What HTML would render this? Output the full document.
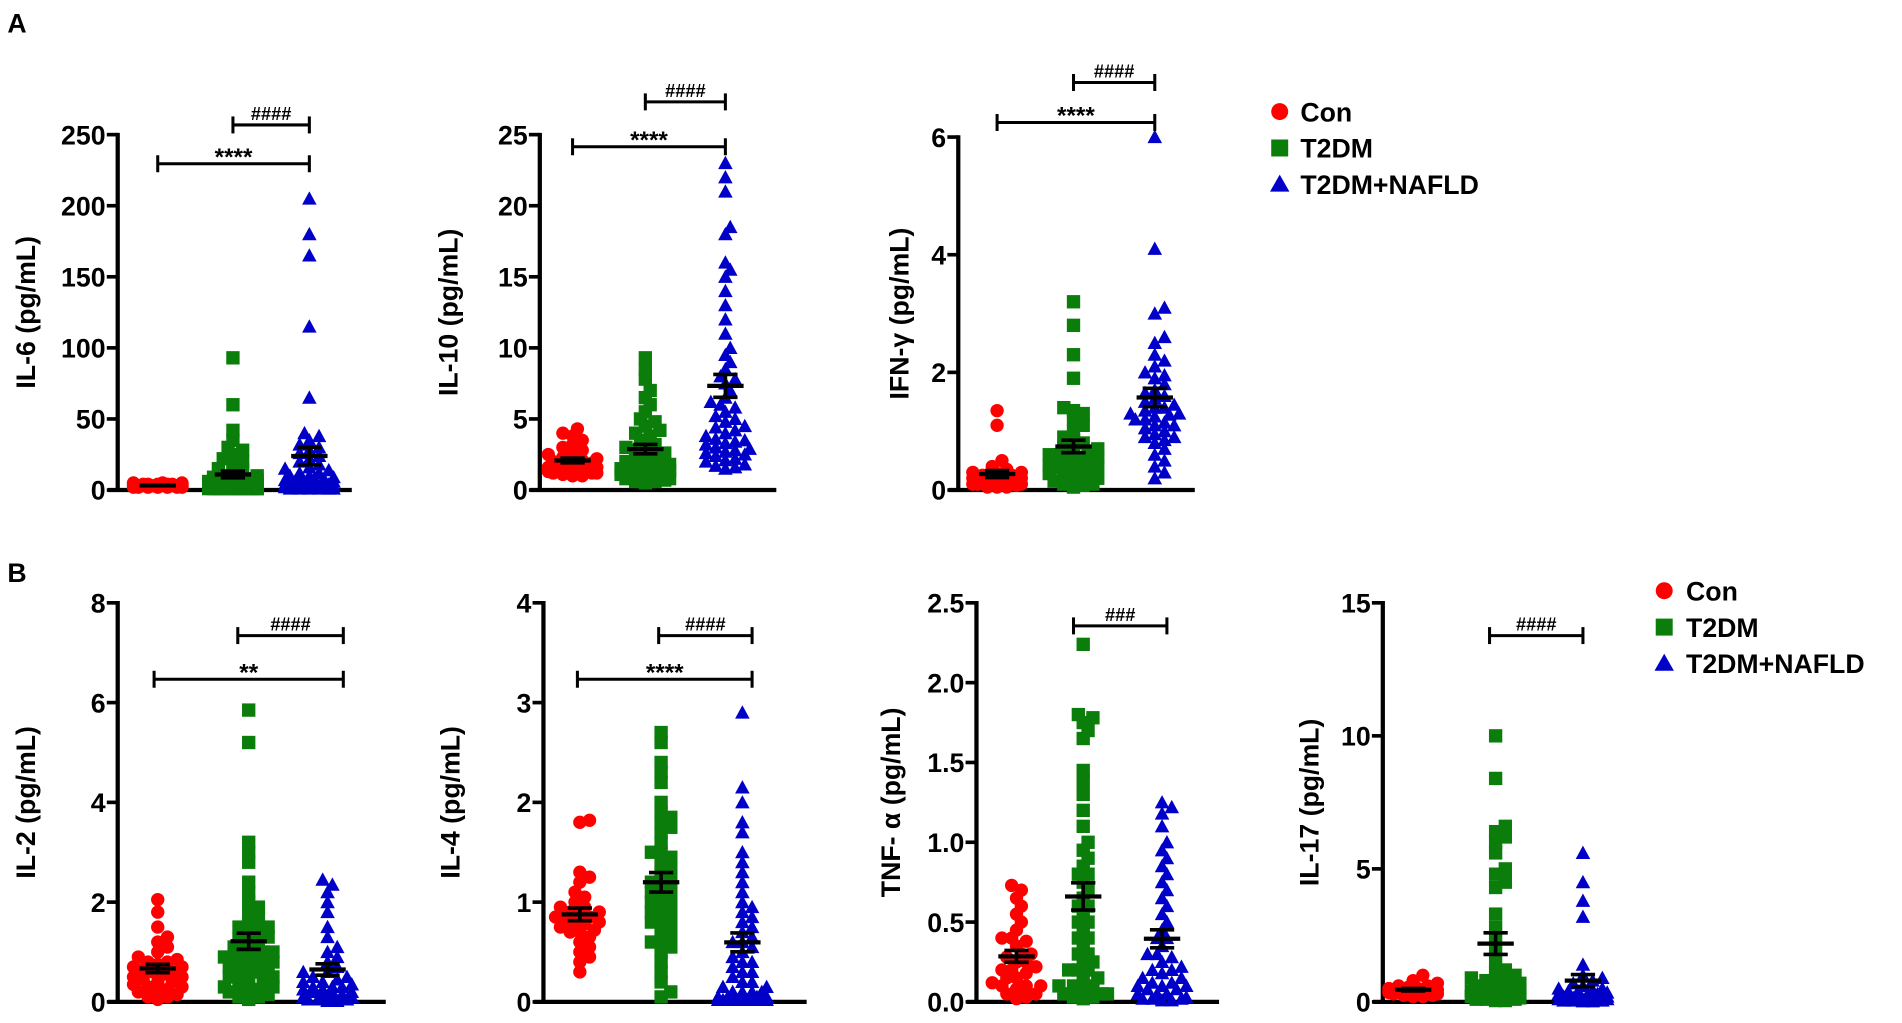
<!DOCTYPE html>
<html><head><meta charset="utf-8">
<style>
html,body{margin:0;padding:0;background:#fff;}
svg{display:block;}
text{font-family:"Liberation Sans",Arial,sans-serif;font-weight:bold;fill:#000;}
</style></head>
<body>
<svg id="fig" width="1902" height="1023" viewBox="0 0 1568 843.4" xmlns="http://www.w3.org/2000/svg">
<text x="6" y="27" font-size="22">A</text>
<text x="6" y="480" font-size="22">B</text>
<g>
<circle cx="1055" cy="92" r="7" fill="#f00"/>
<text x="1072" y="100" font-size="22">Con</text>
<rect x="1048" y="115" width="14" height="14" fill="#0a7d0a"/>
<text x="1072" y="130" font-size="22">T2DM</text>
<polygon points="1055,144 1063,158 1047,158" fill="#0000c8"/>
<text x="1072" y="160" font-size="22">T2DM+NAFLD</text>
</g>
<g>
<circle cx="1372" cy="487" r="7" fill="#f00"/>
<text x="1390" y="495" font-size="22">Con</text>
<rect x="1365" y="510" width="14" height="14" fill="#0a7d0a"/>
<text x="1390" y="525" font-size="22">T2DM</text>
<polygon points="1372,539 1380,553 1364,553" fill="#0000c8"/>
<text x="1390" y="555" font-size="22">T2DM+NAFLD</text>
</g>
</svg>
<script>
// ---- data ----
const il6Con=[2,3,4,3,2,5,3,4,2,3,4,3,5,2,3,4,3,2,4,3,3,2,4,5,3,2,3,4];
const il6T2dm=[93,60,42,35,30,28,25,22,20,18,15,14,12,10,9,8,7,6,5,5,4,4,3,3,3,2,2,2,2,1,1,1,1,1,1,1,1,1,1,1,1,2,2,3,4,5,6,7,8,10];
const il6Nafld=[205,180,165,115,65,12,10,8,6,4,3,2,1,40,38,35,32,30,28,26,24,22,20,18,16,15,14,12,10,9,8,7,6,5,5,4,4,3,3,2,2,2,1,1,1,1,1,2,3,4,6,8];
const il10Con=[4.3,4.0,3.8,3.5,3.2,3.0,2.8,2.6,2.5,2.3,2.2,2.1,2.0,1.9,1.8,1.7,1.6,1.5,1.5,1.4,1.3,1.2,1.2,1.1,1.0,1.0,1.6,1.8,2.0,1.4,1.2];
const il10T2dm=[9.3,8.5,7.8,7.0,6.5,6.0,5.5,5.0,4.8,4.5,4.2,4.0,3.8,3.5,3.2,3.0,2.8,2.6,2.4,2.2,2.0,1.9,1.8,1.7,1.6,1.5,1.4,1.3,1.2,1.1,1.0,0.9,0.8,0.7,0.6,0.5,1.0,1.2,1.5,2.0,2.5,3.0,0.8,0.6,1.4,1.8];
const il10Nafld=[23,22,21,18.5,18,16,15.5,15,14,3.4,13,2.7,12,2.1,11,1.7,10,9.5,9,8.5,8,7.8,7.5,7,6.5,6,5.8,5.5,5,4.8,4.5,4.2,4,3.8,3.5,3.3,3,2.8,2.6,2.5,2.4,2.2,2,1.8,1.6,1.5,3.2,4.4,5.2,6.2,2.9,3.6];
const ifnCon=[1.35,1.1,0.5,0.4,0.35,0.3,0.28,0.25,0.2,0.2,0.18,0.15,0.15,0.12,0.1,0.1,0.08,0.05,0.05,0.2,0.3,0.1,0.15,0.25,0.05,0.1];
const ifnT2dm=[3.2,2.8,2.3,1.9,1.4,1.35,1.3,1.2,1.1,1.0,0.9,0.85,0.8,0.75,0.7,0.65,0.6,0.58,0.55,0.5,0.48,0.45,0.42,0.4,0.38,0.35,0.3,0.28,0.25,0.2,0.18,0.15,0.1,0.08,0.05,0.3,0.5,0.6,0.4,0.2,0.1,0.7,0.55];
const ifnNafld=[6.0,4.1,3.1,3.0,2.6,2.5,2.3,2.2,2.1,2.0,1.95,1.9,1.8,1.7,1.65,1.6,1.55,1.5,1.45,1.4,1.35,1.3,1.28,1.25,1.2,1.15,1.1,1.05,1.0,0.95,0.9,0.85,0.8,0.7,0.6,0.5,0.4,0.3,0.2,1.3,1.4,1.2,1.1,0.9];
const il2Con=[2.05,1.8,1.5,1.3,1.2,1.1,1.0,0.9,0.85,0.8,0.75,0.7,0.65,0.6,0.55,0.5,0.45,0.4,0.35,0.3,0.25,0.2,0.15,0.1,0.05,0.6,0.5,0.4,0.3,0.2,0.1,0.7,0.8];
const il2T2dm=[5.85,5.2,3.2,3.0,2.8,2.4,2.2,2.0,1.9,1.8,1.7,1.6,1.5,1.45,1.4,1.3,1.25,1.2,1.1,1.05,1.0,0.95,0.9,0.85,0.8,0.75,0.7,0.6,0.5,0.4,0.3,0.2,0.1,0.05,0.5,0.8,1.0,1.2,0.6,0.3,1.5,0.9,0.7,0.1,0.2,0.3,0.4,0.5,0.6,0.15,0.25];
const il2Nafld=[2.45,2.35,2.2,2.0,1.8,1.5,1.3,1.1,1.0,0.9,0.8,0.7,0.6,0.5,0.45,0.4,0.35,0.3,0.25,0.2,0.15,0.1,0.05,0.02,0.1,0.2,0.3,0.05,0.15,0.25,0.4,0.6,0.1,0.05,0.02,0.3,0.5,0.2];
const il4Con=[1.82,1.8,1.3,1.25,1.2,1.1,1.05,1.0,0.95,0.9,0.88,0.85,0.82,0.8,0.78,0.75,0.72,0.7,0.65,0.6,0.55,0.5,0.45,0.4,0.3,0.9,0.8,0.7,0.85,0.95];
const il4T2dm=[2.7,2.6,2.4,2.3,2.2,2.0,1.9,1.85,1.8,1.75,1.7,1.6,1.5,1.45,1.4,1.35,1.3,1.25,1.2,1.15,1.1,1.05,1.0,0.95,0.9,0.85,0.8,0.75,0.7,0.65,0.6,0.55,0.5,0.4,0.3,0.2,0.1,0.05,1.0,1.2,0.9,1.5,1.1,0.8,0.6];
const il4Nafld=[2.9,2.15,2.0,1.8,1.7,1.5,1.4,1.3,1.2,1.1,1.0,0.95,0.9,0.85,0.8,0.75,0.7,0.65,0.6,0.55,0.5,0.45,0.4,0.35,0.3,0.25,0.2,0.15,0.1,0.05,0.02,0.1,0.2,0.05,0.02,0.3,0.1,0.05,0.4,0.6,0.02,0.15,0.02,0.02,0.02,0.02,0.02,0.02,0.1,0.05];
const tnfCon=[0.73,0.7,0.65,0.6,0.55,0.5,0.45,0.4,0.38,0.35,0.3,0.28,0.25,0.22,0.2,0.18,0.15,0.12,0.1,0.08,0.05,0.03,0.02,0.1,0.2,0.3,0.15,0.05,0.25,0.4,0.1];
const tnfT2dm=[2.24,1.8,1.78,1.75,1.7,1.65,1.45,1.38,1.3,1.2,1.1,1.0,0.95,0.9,0.85,0.8,0.75,0.7,0.65,0.6,0.55,0.5,0.45,0.4,0.35,0.3,0.25,0.2,0.15,0.1,0.05,0.03,0.02,0.2,0.4,0.3,0.1,0.5,0.25,0.05,0.8,0.6,0.05,0.1,0.15,0.2,0.03,0.08];
const tnfNafld=[1.25,1.22,1.18,1.1,1.0,0.95,0.9,0.85,0.8,0.75,0.7,0.65,0.6,0.55,0.5,0.45,0.4,0.35,0.3,0.28,0.25,0.22,0.2,0.18,0.15,0.12,0.1,0.08,0.05,0.03,0.02,0.01,0.1,0.2,0.05,0.3,0.02,0.15,0.4,0.01,0.02,0.05,0.08,0.1,0.12];
const il17Con=[1.0,0.8,0.7,0.6,0.55,0.5,0.45,0.4,0.35,0.3,0.25,0.2,0.3,0.4,0.5,0.2,0.6,0.35,0.45,0.25];
const il17T2dm=[10.0,8.4,6.6,6.4,6.2,6.0,5.6,5.0,4.8,4.5,4.3,3.3,2.8,2.4,2.0,1.5,1.2,1.0,0.9,0.8,0.7,0.6,0.5,0.4,0.3,0.2,0.1,0.05,0.5,0.3,0.2,0.1,0.8,0.6,0.4,0.2,0.05,0.3,0.1,0.7,1.1,0.15];
const il17Nafld=[5.6,4.5,3.8,3.2,1.4,1.0,0.9,0.8,0.7,0.6,0.5,0.45,0.4,0.35,0.3,0.25,0.2,0.15,0.1,0.05,0.02,0.1,0.2,0.3,0.05,0.15,0.4,0.02,0.1,0.25,0.5,0.05,0.2,0.3,0.1];
const il6Ticks=[0,50,100,150,200,250];
const il10Ticks=[0,5,10,15,20,25];
const ifnTicks=[0,2,4,6];
const il2Ticks=[0,2,4,6,8];
const il4Ticks=[0,1,2,3,4];
const tnfTicks=["0.0","0.5","1.0","1.5","2.0","2.5"];
const il17Ticks=[0,5,10,15];

// ---- layout ----
const plots=[
 {name:'il6',label:'IL-6 (pg/mL)',groups:[il6Con,il6T2dm,il6Nafld],ticks:il6Ticks,ax:97,ax2:290,y0:404,yT:111,cols:[130,192,255],lx:22,
  br:[{a:0,b:2,y:135,t:'****'},{a:1,b:2,y:103,t:'####'}]},
 {name:'il10',label:'IL-10 (pg/mL)',groups:[il10Con,il10T2dm,il10Nafld],ticks:il10Ticks,ax:445,ax2:640,y0:404,yT:111,cols:[472,532,598],lx:370,
  br:[{a:0,b:2,y:121,t:'****'},{a:1,b:2,y:84,t:'####'}]},
 {name:'ifn',label:'IFN-γ (pg/mL)',groups:[ifnCon,ifnT2dm,ifnNafld],ticks:ifnTicks,ax:790,ax2:985,y0:404,yT:113,cols:[822,885,952],lx:742,
  br:[{a:0,b:2,y:101,t:'****'},{a:1,b:2,y:68,t:'####'}]},
 {name:'il2',label:'IL-2 (pg/mL)',groups:[il2Con,il2T2dm,il2Nafld],ticks:il2Ticks,ax:97,ax2:318,y0:826,yT:497,cols:[130,205,270],lx:22,
  br:[{a:0,b:2,y:560,t:'**'},{a:1,b:2,y:524,t:'####'}],bx:[127,283],bx2:[196,283]},
 {name:'il4',label:'IL-4 (pg/mL)',groups:[il4Con,il4T2dm,il4Nafld],ticks:il4Ticks,ax:448,ax2:665,y0:826,yT:497,cols:[478,545,612],lx:372,
  br:[{a:0,b:2,y:560,t:'****'},{a:1,b:2,y:524,t:'####'}],bx:[476,620],bx2:[543,620]},
 {name:'tnf',label:'TNF- α (pg/mL)',groups:[tnfCon,tnfT2dm,tnfNafld],ticks:tnfTicks,ax:805,ax2:1005,y0:826,yT:497,cols:[838,893,958],lx:735,
  br:[{a:1,b:2,y:516,t:'###'}],bx2:[885,962]},
 {name:'il17',label:'IL-17 (pg/mL)',groups:[il17Con,il17T2dm,il17Nafld],ticks:il17Ticks,ax:1140,ax2:1330,y0:826,yT:497,cols:[1165,1233,1305],lx:1080,
  br:[{a:1,b:2,y:524,t:'####'}],bx2:[1228,1305]}
];
const colors=['#ff0000','#0a7d0a','#0000c8'];
const NS='http://www.w3.org/2000/svg';
const svg=document.getElementById('fig');
function mk(tag,attrs,parent){const e=document.createElementNS(NS,tag);for(const k in attrs)e.setAttribute(k,attrs[k]);(parent||svg).appendChild(e);return e;}

plots.forEach(p=>{
  const g=mk('g',{});
  
  
  const tmax=parseFloat(p.ticks[p.ticks.length-1]);
  const ys=v=>p.y0-(v/tmax)*(p.y0-p.yT);
  const ya=mk('line',{x1:p.ax,y1:p.yT-1.5,x2:p.ax,y2:p.y0+1.5,stroke:'#000','stroke-width':3.5},g);
  
  
  const xa=mk('line',{x1:p.ax-8,y1:p.y0,x2:p.ax2,y2:p.y0,stroke:'#000','stroke-width':3.5},g);
  
  
  p.ticks.forEach(t=>{
    const y=ys(parseFloat(t));
    mk('line',{x1:p.ax-9,y1:y,x2:p.ax,y2:y,stroke:'#000','stroke-width':3},g);
    const tx=mk('text',{x:p.ax-10,y:y+8,'font-size':22,'text-anchor':'end'},g);
    tx.textContent=t;
    
    
  });
  const yc=(p.y0+p.yT)/2;
  const lab=mk('text',{x:p.lx,y:yc,'font-size':22,'text-anchor':'middle',transform:`rotate(-90 ${p.lx} ${yc})`,dy:7},g);
  lab.textContent=p.label;
  
  
  p.groups.forEach((arr,gi)=>{
    const cx=p.cols[gi];
    const placed=[];
    const sorted=arr.slice().sort((a,b)=>a-b);
    const r=5.5, minD=7;
    sorted.forEach(v=>{
      const y=ys(v);
      let best=0,bestOv=1e9;
      const offs=[0];for(let k=1;k<=5;k++){offs.push(k*4,-k*4);}
      for(const o of offs){
        let ov=0;for(const q of placed){const d=Math.hypot(q[0]-(cx+o),q[1]-y);if(d<minD)ov+=minD-d;}
        if(ov===0){best=o;bestOv=0;break;}
        if(ov<bestOv){bestOv=ov;best=o;}
      }
      const x=cx+best;placed.push([x,y]);
      let m;
      if(gi===0)m=mk('circle',{cx:x,cy:y,r:r,fill:colors[0]},g);
      else if(gi===1)m=mk('rect',{x:x-r,y:y-r,width:2*r,height:2*r,fill:colors[1]},g);
      else m=mk('polygon',{points:`${x},${y-r-0.5} ${x+r+0.5},${y+r-0.5} ${x-r-0.5},${y+r-0.5}`,fill:colors[2]},g);
      
      
    });
    const n=arr.length,mean=arr.reduce((a,b)=>a+b,0)/n;
    const sd=Math.sqrt(arr.reduce((a,b)=>a+(b-mean)*(b-mean),0)/(n-1)),sem=sd/Math.sqrt(n);
    const eg=mk('g',{stroke:'#000','stroke-width':3},g);
    
    
    mk('line',{x1:cx,y1:ys(mean-sem),x2:cx,y2:ys(mean+sem)},eg);
    mk('line',{x1:cx-10,y1:ys(mean-sem),x2:cx+10,y2:ys(mean-sem)},eg);
    mk('line',{x1:cx-10,y1:ys(mean+sem),x2:cx+10,y2:ys(mean+sem)},eg);
    mk('line',{x1:cx-15,y1:ys(mean),x2:cx+15,y2:ys(mean),'stroke-width':3.5},eg);
  });
  p.br.forEach(b=>{
    let x1=p.cols[b.a],x2=p.cols[b.b];
    if(b.a===0&&p.bx){x1=p.bx[0];x2=p.bx[1];}
    if(b.a===1&&p.bx2){x1=p.bx2[0];x2=p.bx2[1];}
    const bg=mk('g',{stroke:'#000','stroke-width':2.5},g);
    
    
    mk('line',{x1:x1,y1:b.y,x2:x2,y2:b.y},bg);
    mk('line',{x1:x1,y1:b.y-7,x2:x1,y2:b.y+7},bg);
    mk('line',{x1:x2,y1:b.y-7,x2:x2,y2:b.y+7},bg);
    const isStar=b.t[0]==='*';
    const st=mk('text',{x:(x1+x2)/2,y:isStar?b.y+1:b.y-4,'font-size':isStar?20:15,'text-anchor':'middle'},g);
    st.textContent=b.t;
    
    
  });
});
</script>
</body></html>
